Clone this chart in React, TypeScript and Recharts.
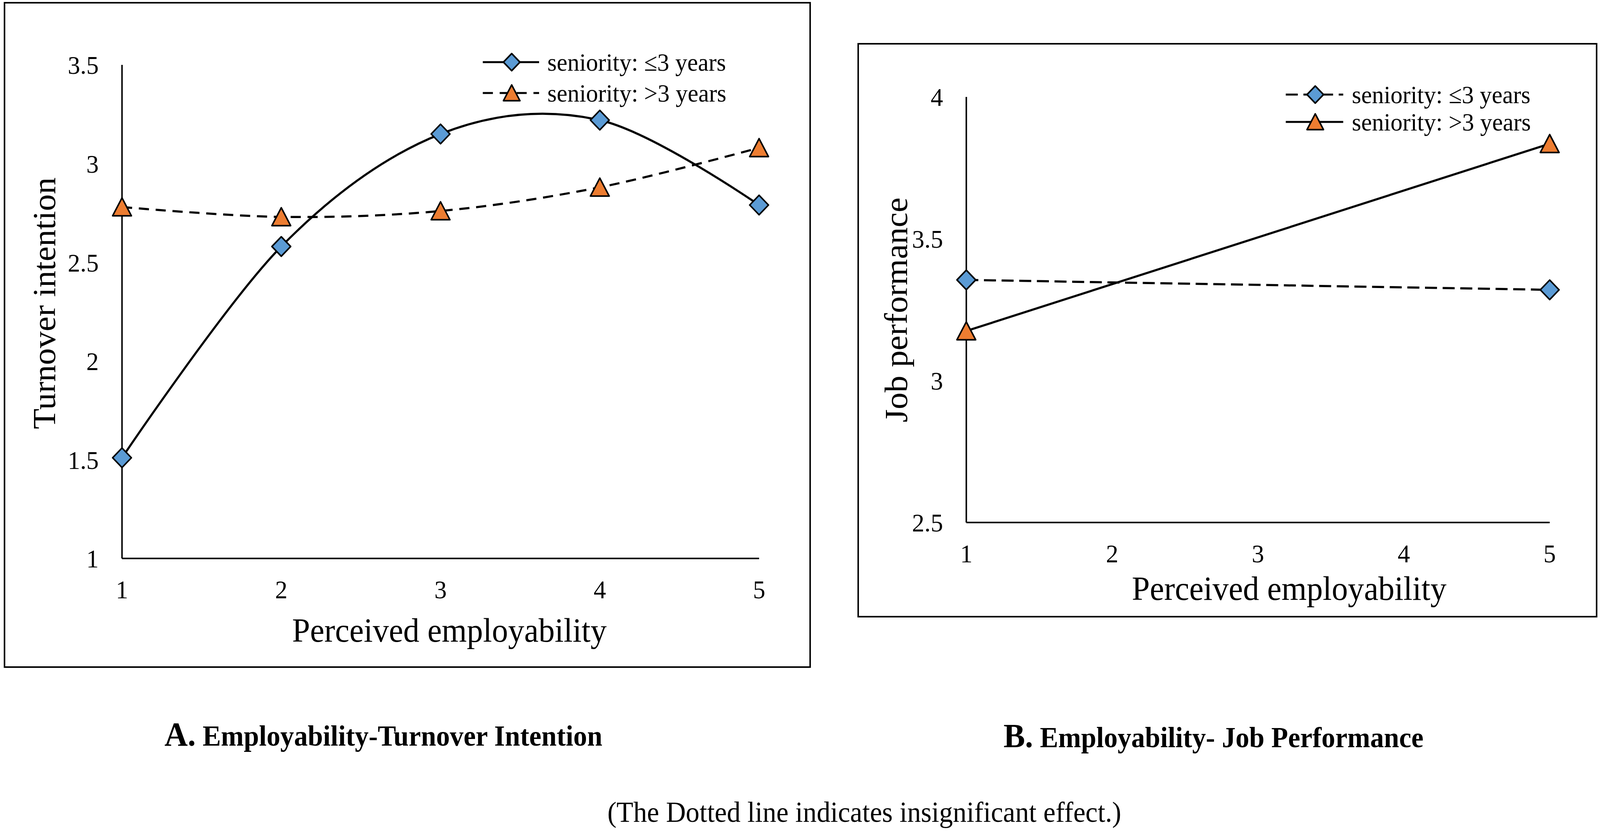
import React from "react";
import { LineChart, Line, XAxis, YAxis, Legend } from "recharts";

// ---- data ----
const xTicks = [1, 2, 3, 4, 5];

// A. Employability - Turnover intention
const xA = [1, 2, 3, 4, 5];
const turnoverLe3 = [1.51, 2.58, 3.15, 3.22, 2.79];
const turnoverGt3 = [2.78, 2.73, 2.76, 2.88, 3.08];
const yTicksA = [1, 1.5, 2, 2.5, 3, 3.5];

// B. Employability - Job performance
const xB = [1, 5];
const perfLe3 = [3.355, 3.32];
const perfGt3 = [3.175, 3.835];
const yTicksB = [2.5, 3, 3.5, 4];

const LABEL_LE3 = "seniority: ≤3 years";
const LABEL_GT3 = "seniority: >3 years";

const dataA = xA.map((x, i) => ({ x, le3: turnoverLe3[i], gt3: turnoverGt3[i] }));
const dataB = xB.map((x, i) => ({ x, le3: perfLe3[i], gt3: perfGt3[i] }));

const W = 4262;
const H = 2129;
const FONT = "'Liberation Serif', 'Times New Roman', serif";
const BLUE = "#5B9BD5";
const ORANGE = "#ED7D31";

// Excel-like smoothed line (Catmull-Rom through the points)
function smoothCurve(context: any) {
  let x0 = NaN, x1 = NaN, x2 = NaN, y0 = NaN, y1 = NaN, y2 = NaN;
  let pt = 0;
  let line = NaN;
  const seg = (x: number, y: number) => {
    context.bezierCurveTo(
      x1 + (x2 - x0) / 6, y1 + (y2 - y0) / 6,
      x2 + (x1 - x) / 6, y2 + (y1 - y) / 6,
      x2, y2,
    );
  };
  return {
    areaStart() { line = 0; },
    areaEnd() { line = NaN; },
    lineStart() { x0 = x1 = x2 = y0 = y1 = y2 = NaN; pt = 0; },
    lineEnd() {
      if (pt === 2) context.lineTo(x2, y2);
      else if (pt === 3) seg(x1, y1);
      if (line || (line !== 0 && pt === 1)) context.closePath();
      line = 1 - line;
    },
    point(x: number, y: number) {
      x = +x; y = +y;
      if (pt === 0) { pt = 1; if (line) context.lineTo(x, y); else context.moveTo(x, y); }
      else if (pt === 1) { pt = 2; x1 = x; y1 = y; }
      else { pt = 3; seg(x, y); }
      x0 = x1; x1 = x2; x2 = x;
      y0 = y1; y1 = y2; y2 = y;
    },
  };
}

type Shape = "diamond" | "triangle";

function markerPath(shape: Shape, cx: number, cy: number, r: number) {
  if (shape === "diamond") {
    return `M${cx},${cy - r}L${cx + r},${cy}L${cx},${cy + r}L${cx - r},${cy}Z`;
  }
  return `M${cx},${cy - r * 0.94}L${cx + r},${cy + r * 0.9}L${cx - r},${cy + r * 0.9}Z`;
}

const makeDot = (shape: Shape, fill: string, r: number) => (props: any) => {
  const { cx, cy, index } = props;
  if (cx == null || cy == null) return <g key={`n-${index}`} />;
  return (
    <path
      key={`${shape}-${index}`}
      d={markerPath(shape, cx, cy, r)}
      fill={fill}
      stroke="#000"
      strokeWidth={4}
      strokeLinejoin="round"
    />
  );
};

interface SeriesMeta { key: string; shape: Shape; fill: string; dash?: string }

// legend rows keep the series order of the figure (le3 first)
const makeLegend = (meta: SeriesMeta[], rows: number[], lineLen: number, textX: number) =>
  (props: any) => {
    const payload = props.payload || [];
    return (
      <svg width={720} height={rows[rows.length - 1] + 50} style={{ overflow: "visible" }}>
        {meta.map((m, i) => {
          const p = payload.find((e: any) => e.dataKey === m.key);
          if (!p) return null;
          const y = rows[i];
          return (
            <g key={m.key}>
              <line x1={0} x2={lineLen} y1={y} y2={y} stroke="#000" strokeWidth={5} strokeDasharray={m.dash} />
              <path d={markerPath(m.shape, lineLen / 2 + 2, y, 22)} fill={m.fill} stroke="#000" strokeWidth={4} strokeLinejoin="round" />
              <text x={textX} y={y + 22} fontSize={64} fontFamily={FONT} fill="#000">{p.value}</text>
            </g>
          );
        })}
      </svg>
    );
  };

const tickStyle = { fill: "#000", fontSize: 66, fontFamily: FONT };
const axisLineStyle = { stroke: "#000", strokeWidth: 4 };

const metaA: SeriesMeta[] = [
  { key: "le3", shape: "diamond", fill: BLUE },
  { key: "gt3", shape: "triangle", fill: ORANGE, dash: "27 18" },
];
const metaB: SeriesMeta[] = [
  { key: "le3", shape: "diamond", fill: BLUE, dash: "32 15" },
  { key: "gt3", shape: "triangle", fill: ORANGE },
];

const boxStyle = (left: number, top: number, width: number, height: number): React.CSSProperties => ({
  position: "absolute", left, top, width, height, border: "4px solid #000", boxSizing: "border-box",
});

const App: React.FC = () => {
  // fit the 4262x2129 figure into whatever viewport we get
  const vw = typeof window !== "undefined" ? window.innerWidth || W : W;
  const vh = typeof window !== "undefined" ? window.innerHeight || H : H;
  const sx = vw / W;
  const sy = vh / H;

  return (
    <div style={{ position: "fixed", left: 0, top: 0, width: "100vw", height: "100vh", overflow: "hidden", background: "#fff" }}>
      <div style={{ position: "absolute", left: 0, top: 0, width: W, height: H, transform: `scale(${sx}, ${sy})`, transformOrigin: "0 0" }}>
        <div style={boxStyle(10, 5, 2150, 1704)} />
        <div style={boxStyle(2284, 110, 1971, 1470)} />

        {/* Panel A */}
        <div style={{ position: "absolute", left: 12, top: 7 }}>
          <LineChart width={2146} height={1700} data={dataA} margin={{ top: 159, right: 136, bottom: 128, left: 163 }}>
            <XAxis
              dataKey="x" type="number" domain={[1, 5]} ticks={xTicks} interval={0}
              tickLine={false} tickSize={0} tickMargin={55} height={150}
              axisLine={axisLineStyle} tick={tickStyle}
            />
            <YAxis
              type="number" domain={[1, 3.5]} ticks={yTicksA} interval={0}
              tickLine={false} tickSize={0} tickMargin={62} width={150}
              axisLine={axisLineStyle} tick={tickStyle}
            />
            <Legend
              layout="vertical" align="center" verticalAlign="middle"
              wrapperStyle={{ left: 1274, top: 112, width: 720, height: 170 }}
              content={makeLegend(metaA, [40, 119], 150, 172)}
            />
            <Line
              dataKey="le3" name={LABEL_LE3} type={smoothCurve as any}
              stroke="#000" strokeWidth={5.5} dot={makeDot("diamond", BLUE, 25)}
              activeDot={false} isAnimationActive={false}
            />
            <Line
              dataKey="gt3" name={LABEL_GT3} type={smoothCurve as any}
              stroke="#000" strokeWidth={5.5} strokeDasharray="27 18" dot={makeDot("triangle", ORANGE, 25)}
              activeDot={false} isAnimationActive={false}
            />
          </LineChart>
        </div>

        {/* Panel B */}
        <div style={{ position: "absolute", left: 2286, top: 112 }}>
          <LineChart width={1967} height={1466} data={dataB} margin={{ top: 136, right: 125, bottom: 91, left: 138 }}>
            <XAxis
              dataKey="x" type="number" domain={[1, 5]} ticks={xTicks} interval={0}
              tickLine={false} tickSize={0} tickMargin={55} height={150}
              axisLine={axisLineStyle} tick={tickStyle}
            />
            <YAxis
              type="number" domain={[2.5, 4]} ticks={yTicksB} interval={0}
              tickLine={false} tickSize={0} tickMargin={62} width={150}
              axisLine={axisLineStyle} tick={tickStyle}
            />
            <Legend
              layout="vertical" align="center" verticalAlign="middle"
              wrapperStyle={{ left: 1139, top: 90, width: 720, height: 160 }}
              content={makeLegend(metaB, [40, 110], 153, 176)}
            />
            <Line
              dataKey="le3" name={LABEL_LE3} type="linear"
              stroke="#000" strokeWidth={5.5} strokeDasharray="32 15" dot={makeDot("diamond", BLUE, 25)}
              activeDot={false} isAnimationActive={false}
            />
            <Line
              dataKey="gt3" name={LABEL_GT3} type="linear"
              stroke="#000" strokeWidth={5.5} dot={makeDot("triangle", ORANGE, 25)}
              activeDot={false} isAnimationActive={false}
            />
          </LineChart>
        </div>

        {/* titles, captions, note */}
        <svg width={W} height={H} style={{ position: "absolute", left: 0, top: 0, pointerEvents: "none" }}>
          <g fontFamily={FONT} fill="#000">
            <text x={147} y={776} fontSize={86} textAnchor="middle" transform="rotate(-90 147 776)">Turnover intention</text>
            <text x={778} y={1642} fontSize={86}>Perceived employability</text>
            <text x={2416} y={793} fontSize={86} textAnchor="middle" transform="rotate(-90 2416 793)">Job performance</text>
            <text x={3015} y={1535} fontSize={86}>Perceived employability</text>

            <text x={438} y={1908} fontWeight="bold">
              <tspan fontSize={86}>A.</tspan>
              <tspan fontSize={73}> Employability-Turnover Intention</tspan>
            </text>
            <text x={2673} y={1912} fontWeight="bold">
              <tspan fontSize={86}>B.</tspan>
              <tspan fontSize={73}> Employability- Job Performance</tspan>
            </text>
            <text x={1618} y={2103} fontSize={73}>(The Dotted line indicates insignificant effect.)</text>
          </g>
        </svg>
      </div>
    </div>
  );
};

export default App;
